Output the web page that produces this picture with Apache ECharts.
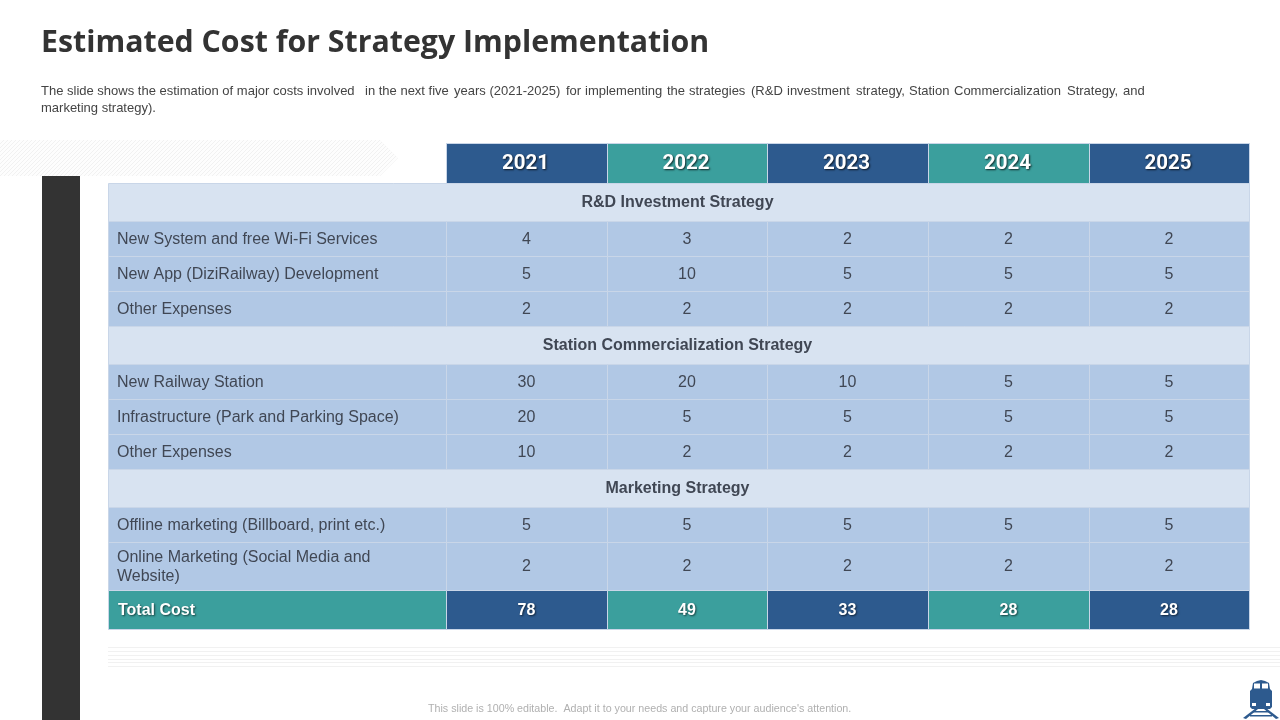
<!DOCTYPE html>
<html><head><meta charset="utf-8">
<style>html,body{margin:0;padding:0;background:#fff}#c{width:1280px;height:720px}</style>
<script src="https://cdn.jsdelivr.net/npm/echarts@6/dist/echarts.min.js"></script>
</head><body><div id="c"></div>
<script>
const titleText = 'Estimated Cost for Strategy Implementation';
const years = ['2021','2022','2023','2024','2025'];
const groupRD = 'R&D Investment Strategy';
const rdLabels = ['New System and free Wi-Fi Services','New App (DiziRailway) Development','Other Expenses'];
const rdValues = [[4,3,2,2,2],[5,10,5,5,5],[2,2,2,2,2]];
const groupStation = 'Station Commercialization Strategy';
const stationLabels = ['New Railway Station','Infrastructure (Park and Parking Space)','Other Expenses'];
const stationValues = [[30,20,10,5,5],[20,5,5,5,5],[10,2,2,2,2]];
const groupMarketing = 'Marketing Strategy';
const marketingLabels = ['Offline marketing (Billboard, print etc.)','Online Marketing (Social Media and\nWebsite)'];
const marketingValues = [[5,5,5,5,5],[2,2,2,2,2]];
const totalLabel = 'Total Cost';
const totalValues = [78,49,33,28,28];
const footer = "This slide is 100% editable.  Adapt it to your needs and capture your audience's attention.";

const colEdges = [108,446,607,767,928,1089,1249];
const rowEdges = [143,183,221,256,291,326,364,399,434,469,507,542,590,629];
const NAVY='#2d5a8e', TEAL='#3b9f9d', PALE='#d8e3f1', MID='#b1c8e5', INK='#404754';

const cells = [];
years.forEach((y,i)=>cells.push([i+1,i+2,0,y,'head',i%2?TEAL:NAVY]));
let r = 1;
function section(name,labels,vals){
  cells.push([0,6,r,name,'group',PALE]); r++;
  labels.forEach((l,k)=>{
    cells.push([0,1,r,l,'label',MID]);
    vals[k].forEach((v,i)=>cells.push([i+1,i+2,r,String(v),'value',MID]));
    r++;
  });
}
section(groupRD,rdLabels,rdValues);
section(groupStation,stationLabels,stationValues);
section(groupMarketing,marketingLabels,marketingValues);
cells.push([0,1,r,totalLabel,'totalLabel',TEAL]);
totalValues.forEach((v,i)=>cells.push([i+1,i+2,r,String(v),'total',i%2?TEAL:NAVY]));

function renderItem(params,api){
  const d = cells[params.dataIndex];
  const tl = api.coord([colEdges[d[0]],rowEdges[d[2]]]);
  const br = api.coord([colEdges[d[1]],rowEdges[d[2]+1]]);
  const w = br[0]-tl[0], h = br[1]-tl[1], kind = d[4];
  const st = {text:d[3],fill:INK,fontFamily:'Liberation Sans',fontSize:16,align:'center',verticalAlign:'middle',
              x:tl[0]+w/2,y:tl[1]+h/2+1};
  if(kind==='head'){Object.assign(st,{fill:'#fff',fontFamily:'Roboto',fontWeight:700,fontSize:20.5,x:tl[0]+w/2-1,
     textShadowColor:'rgba(0,0,0,.75)',textShadowBlur:2,textShadowOffsetX:1,textShadowOffsetY:1});}
  if(kind==='group'){Object.assign(st,{fontWeight:700,fontFamily:'Liberation Sans',x:tl[0]+w/2-1});}
  if(kind==='label'){Object.assign(st,{align:'left',x:tl[0]+9,lineHeight:19});}
  if(kind==='total'||kind==='totalLabel'){Object.assign(st,{fill:'#fff',fontWeight:700,
     textShadowColor:'rgba(0,0,0,.6)',textShadowBlur:2,textShadowOffsetX:1,textShadowOffsetY:1});}
  if(kind==='totalLabel'){Object.assign(st,{align:'left',x:tl[0]+10});}
  return {type:'group',children:[
    {type:'rect',shape:{x:tl[0]+0.5,y:tl[1]+0.5,width:w,height:h},style:{fill:d[5],stroke:'#c9d6e8',lineWidth:1}},
    {type:'text',style:st}
  ]};
}

function hatch(){
  const c=document.createElement('canvas');c.width=4;c.height=4;
  const g=c.getContext('2d');g.fillStyle='#fdfdfd';g.fillRect(0,0,4,4);
  g.strokeStyle='#f1f1f1';g.lineWidth=1;g.beginPath();g.moveTo(0,4);g.lineTo(4,0);g.stroke();
  return c;
}
const subLine1 = [
 [41,'The slide shows the estimation of major costs involved'],
 [365,'in the next five'],[454,'years (2021-2025)'],
 [566,'for'],[585,'implementing'],[667,'the'],[689,'strategies'],[751,'(R&D'],[787,'investment'],
 [856,'strategy,'],[909,'Station'],[954,'Commercialization'],[1067,'Strategy,'],[1123,'and']
];
const subFont='13px "Liberation Sans"';
const sub = subLine1.map(s=>({type:'text',x:s[0],y:84.5,style:{text:s[1],font:subFont,fill:'#444'}}));
sub.push({type:'text',x:41,y:101.5,style:{text:'marketing strategy).',font:subFont,fill:'#444'}});
const lines=[647,651,655,659,662,666].map(y=>({type:'line',shape:{x1:108,y1:y+.5,x2:1280,y2:y+.5},style:{stroke:'#f1f1f1',lineWidth:1},z:0}));
const train={type:'group',x:1243,y:680,silent:true,children:[
  {type:'polygon',shape:{points:[[9,9],[10,3],[14,1],[18,0],[22,1],[26,3],[27,9],[29,11],[29,27],[27,29],[9,29],[7,27],[7,11]]},style:{fill:NAVY}},
  {type:'rect',shape:{x:11,y:3.5,width:6,height:5},style:{fill:'#fff'}},
  {type:'rect',shape:{x:19,y:3.5,width:6,height:5},style:{fill:'#fff'}},
  {type:'rect',shape:{x:9,y:23,width:4,height:3},style:{fill:'#fff'}},
  {type:'rect',shape:{x:23,y:23,width:4,height:3},style:{fill:'#fff'}},
  {type:'polygon',shape:{points:[[0,38],[13,28],[15,29],[3,39]]},style:{fill:NAVY}},
  {type:'polygon',shape:{points:[[36,38],[23,28],[21,29],[33,39]]},style:{fill:NAVY}},
  {type:'rect',shape:{x:10,y:31,width:16,height:1.5},style:{fill:NAVY}},
  {type:'rect',shape:{x:7,y:35,width:22,height:1.5},style:{fill:NAVY}}
]};

const chart = echarts.init(document.getElementById('c'),null,{renderer:'canvas'});
chart.setOption({
  animation:false,
  backgroundColor:'#fff',
  title:{text:titleText,left:41,top:28,padding:0,textStyle:{fontFamily:'Open Sans',fontWeight:700,fontSize:30.3,color:'#333'}},
  grid:{left:colEdges[0],top:rowEdges[0],width:colEdges[6]-colEdges[0],height:rowEdges[13]-rowEdges[0]},
  xAxis:{type:'value',min:colEdges[0],max:colEdges[6],show:false},
  yAxis:{type:'value',min:rowEdges[0],max:rowEdges[13],inverse:true,show:false},
  graphic:[
    {type:'polygon',shape:{points:[[0,140],[380,140],[398,158],[380,176],[0,176]]},style:{fill:{image:hatch(),repeat:'repeat'}},z:0},
    {type:'rect',shape:{x:42,y:176,width:38,height:544},style:{fill:'#333333'},z:1},
    ...lines,...sub,train,
    {type:'text',x:428,y:704,style:{text:footer,font:'10.7px "Liberation Sans"',fill:'#b0b0b0'}}
  ],
  series:[{type:'custom',coordinateSystem:'cartesian2d',clip:false,renderItem,encode:{x:0,y:2},
    data:cells.map(c=>[colEdges[c[0]],c[1],rowEdges[c[2]]])}]
});
</script></body></html>
